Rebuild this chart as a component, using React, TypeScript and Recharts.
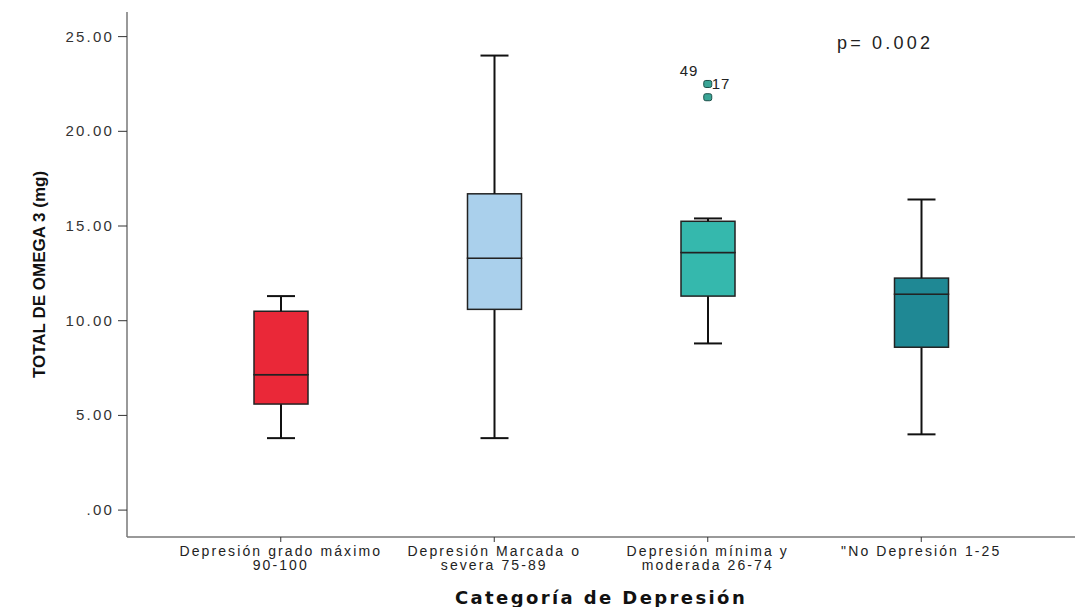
import React from 'react';
import { ComposedChart, Bar, XAxis, YAxis, Scatter, Label } from 'recharts';

const categories = [
  'Depresión grado máximo|90-100',
  'Depresión Marcada o|severa 75-89',
  'Depresión mínima y|moderada 26-74',
  '"No Depresión 1-25',
];
const minValues = [3.8, 3.8, 8.8, 4.0];
const q1Values = [5.6, 10.6, 11.3, 8.6];
const medianValues = [7.15, 13.3, 13.6, 11.4];
const q3Values = [10.5, 16.7, 15.25, 12.25];
const maxValues = [11.3, 24.0, 15.4, 16.4];
const boxColors = ['#ea2838', '#aad0ec', '#35b8ad', '#1f8894'];
const outlierA = [null, null, 22.5, null];
const outlierB = [null, null, 21.8, null];
const outlierALabels = ['', '', '17', ''];
const outlierLabelTop = ['', '', '49', ''];
const yTicks = [0, 5, 10, 15, 20, 25];

const data = categories.map((c, i) => ({
  name: c,
  base: minValues[i],
  wLow: q1Values[i] - minValues[i],
  bLow: medianValues[i] - q1Values[i],
  bHigh: q3Values[i] - medianValues[i],
  wHigh: maxValues[i] - q3Values[i],
  oA: outlierA[i],
  oB: outlierB[i],
  idx: i,
}));

const FONT = 'Liberation Sans';

const WhiskerLow = (p: any) => {
  const { x, y, width, height } = p;
  const cx = x + width / 2;
  return (
    <g>
      <line x1={cx} x2={cx} y1={y} y2={y + height} stroke="#111" strokeWidth={2} />
      <line x1={cx - 14} x2={cx + 14} y1={y + height} y2={y + height} stroke="#111" strokeWidth={2} />
    </g>
  );
};
const WhiskerHigh = (p: any) => {
  const { x, y, width, height } = p;
  const cx = x + width / 2;
  return (
    <g>
      <line x1={cx} x2={cx} y1={y} y2={y + height} stroke="#111" strokeWidth={2} />
      <line x1={cx - 14} x2={cx + 14} y1={y} y2={y} stroke="#111" strokeWidth={2} />
    </g>
  );
};
const BoxPart = (p: any) => {
  const { x, y, width, height, payload } = p;
  return (
    <rect x={x} y={y} width={width} height={height} fill={boxColors[payload.idx]} stroke="#222" strokeWidth={1.5} />
  );
};

const OutlierA = (p: any) => {
  const { cx, cy, payload } = p;
  if (cy == null || isNaN(cy)) return null;
  return (
    <g>
      <rect x={cx - 4} y={cy - 3.5} width={8} height={7} rx={2} fill="#3aa596" stroke="#1c4f48" strokeWidth={1} />
      <text x={cx + 4} y={cy + 5} fontFamily={FONT} fontSize={15} fill="#222" letterSpacing={1}>{outlierALabels[payload.idx]}</text>
      <text x={cx - 28} y={cy - 8} fontFamily={FONT} fontSize={15} fill="#222" letterSpacing={1}>{outlierLabelTop[payload.idx]}</text>
    </g>
  );
};
const OutlierB = (p: any) => {
  const { cx, cy } = p;
  if (cy == null || isNaN(cy)) return null;
  return <rect x={cx - 4} y={cy - 3.5} width={8} height={7} rx={2} fill="#3aa596" stroke="#1c4f48" strokeWidth={1} />;
};

const XTick = (p: any) => {
  const { x, y, payload } = p;
  const lines = String(payload.value).split('|');
  return (
    <g>
      {lines.map((l, i) => (
        <text key={i} x={x} y={y + 12 + i * 14} textAnchor="middle" fontFamily={FONT} fontSize={14} fill="#222" letterSpacing={2.1}>
          {l}
        </text>
      ))}
    </g>
  );
};

const YTick = (p: any) => {
  const { x, y, payload } = p;
  const v = payload.value;
  const s = v === 0 ? '.00' : v.toFixed(2);
  return (
    <text x={x - 2} y={y + 5} textAnchor="end" fontFamily={FONT} fontSize={15} fill="#333" letterSpacing={2.2}>
      {s}
    </text>
  );
};

export default function App() {
  return (
    <div style={{ position: 'absolute', left: 0, top: 0, width: 1085, height: 607, background: '#fff' }}>
      <ComposedChart width={1085} height={607} data={data} margin={{ top: 12, right: 10, left: 0, bottom: 20 }} barSize={54}>
        <XAxis
          dataKey="name"
          tick={<XTick />}
          tickLine={{ stroke: '#333' }}
          tickSize={5}
          axisLine={{ stroke: '#777', strokeWidth: 1.5 }}
          padding={{ left: 47, right: 47 }}
          height={50}
          interval={0}
        >
          <Label value="Categoría de Depresión" position="bottom" offset={4} style={{ fontFamily: 'DejaVu Sans', fontWeight: 'bold', fontSize: 18, fill: '#111', letterSpacing: 2.4 }} />
        </XAxis>
        <YAxis
          type="number"
          domain={[-1.42, 26.3]}
          ticks={yTicks}
          tick={<YTick />}
          tickLine={{ stroke: '#333' }}
          tickSize={9}
          axisLine={{ stroke: '#777', strokeWidth: 1.5 }}
          width={127}
          allowDataOverflow
        >
          <Label value="TOTAL DE OMEGA 3 (mg)" angle={-90} position="insideLeft" dx={34} style={{ fontFamily: FONT, fontWeight: 'bold', fontSize: 17, fill: '#111', textAnchor: 'middle' }} />
        </YAxis>
        <Bar dataKey="base" stackId="a" fill="transparent" isAnimationActive={false} />
        <Bar dataKey="wLow" stackId="a" shape={<WhiskerLow />} isAnimationActive={false} />
        <Bar dataKey="bLow" stackId="a" shape={<BoxPart />} isAnimationActive={false} />
        <Bar dataKey="bHigh" stackId="a" shape={<BoxPart />} isAnimationActive={false} />
        <Bar dataKey="wHigh" stackId="a" shape={<WhiskerHigh />} isAnimationActive={false} />
        <Scatter dataKey="oA" shape={<OutlierA />} isAnimationActive={false} />
        <Scatter dataKey="oB" shape={<OutlierB />} isAnimationActive={false} />
      </ComposedChart>
      <div style={{ position: 'absolute', left: 837, top: 33, fontFamily: FONT, fontSize: 18, color: '#222', letterSpacing: 3.2 }}>p= 0.002</div>
    </div>
  );
}
